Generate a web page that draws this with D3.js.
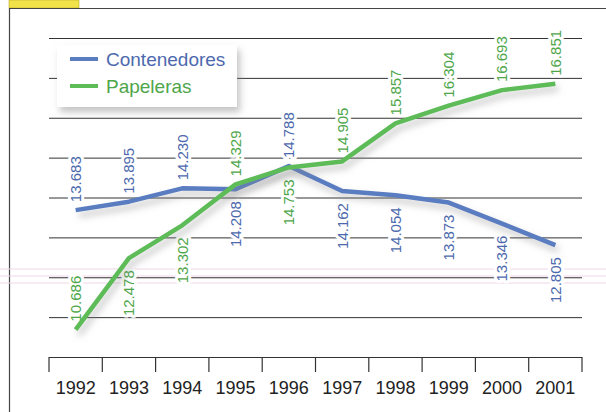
<!DOCTYPE html>
<html>
<head>
<meta charset="utf-8">
<script src="https://cdn.jsdelivr.net/npm/d3@7"></script>
<style>
  body { margin: 0; background: #fff; }
  svg { display: block; font-family: "Liberation Sans", Arial, sans-serif; }
</style>
</head>
<body>
<svg width="606" height="412"></svg>
<script>
const years = ['1992', '1993', '1994', '1995', '1996', '1997', '1998', '1999', '2000', '2001'];
const contenedores = [13.683, 13.895, 14.230, 14.208, 14.788, 14.162, 14.054, 13.873, 13.346, 12.805];
const papeleras = [10.686, 12.478, 13.302, 14.329, 14.753, 14.905, 15.857, 16.304, 16.693, 16.851];
const gridValues = [11, 12, 13, 14, 15, 16, 17, 18];

const svg = d3.select('svg');
const width = +svg.attr('width');
const height = +svg.attr('height');

// plot area
const plotLeft = 49, plotRight = 582, plotTop = 38, plotBottom = 357;

const x = d3.scaleBand().domain(years).range([plotLeft, plotRight]);
const y = d3.scaleLinear().domain([10, 18]).range([plotBottom, plotTop]);

// shadow filter for lines and legend
const defs = svg.append('defs');
defs.append('filter').attr('id', 'shadow')
  .attr('x', '-20%').attr('y', '-20%').attr('width', '140%').attr('height', '160%')
  .append('feDropShadow')
  .attr('dx', 3).attr('dy', 5).attr('stdDeviation', 3.5)
  .attr('flood-color', '#888').attr('flood-opacity', 0.5);

// page frame + yellow tab
svg.append('rect').attr('x', 9).attr('y', 0).attr('width', 70).attr('height', 8)
  .attr('fill', '#f1e24a').attr('stroke', '#b8a830').attr('stroke-width', 0.6);
svg.append('line').attr('x1', 9).attr('x2', width).attr('y1', 8.5).attr('y2', 8.5)
  .attr('stroke', '#444').attr('stroke-width', 1.2);
svg.append('line').attr('x1', 9.5).attr('x2', 9.5).attr('y1', 8).attr('y2', height)
  .attr('stroke', '#444').attr('stroke-width', 1.2);

// faint scan stripes
[269, 276, 283].forEach(v => {
  svg.append('line').attr('x1', 0).attr('x2', width).attr('y1', v).attr('y2', v)
    .attr('stroke', '#f0d6e6').attr('stroke-width', 1);
});

// gridlines
const grid = svg.append('g')
  .attr('transform', `translate(${plotLeft},0)`)
  .call(d3.axisLeft(y).tickValues(gridValues).tickSize(-(plotRight - plotLeft)).tickFormat(''));
grid.select('.domain').remove();
grid.selectAll('.tick line').attr('stroke', '#333').attr('stroke-width', 1);

// x axis: labels centred in bands, ticks on the band edges
const xAxis = svg.append('g')
  .attr('transform', `translate(0,${plotBottom})`)
  .call(d3.axisBottom(x).tickSize(0).tickPadding(24));
xAxis.select('.domain').attr('d', `M${plotLeft},0.5H${plotRight}`).attr('stroke', '#333');
xAxis.selectAll('.tick text').attr('font-size', 18).attr('fill', '#222')
  .attr('font-family', '"Liberation Sans", Arial, sans-serif');
const edges = years.map(d => x(d)).concat([x(years[years.length - 1]) + x.bandwidth()]);
xAxis.selectAll('.edge').data(edges).join('line')
  .attr('x1', d => d).attr('x2', d => d).attr('y1', 0).attr('y2', 15)
  .attr('stroke', '#333').attr('stroke-width', 1.2);

const series = [
  { name: 'Contenedores', values: contenedores, other: papeleras, line: '#5a7cc0', text: '#4d69ad' },
  { name: 'Papeleras', values: papeleras, other: contenedores, line: '#5dbb58', text: '#4ea64a' }
];

const cx = d => x(d) + x.bandwidth() / 2;
const labelLen = 46, gapAbove = 8, gapBelow = 12;

// value labels: on the side away from the other series, flipped if no room
series.forEach(s => {
  svg.append('g').selectAll('text').data(years).join('text')
    .each(function (d, i) {
      const v = s.values[i];
      const py = y(v);
      let above = v >= s.other[i];
      if (!above && py + gapBelow + labelLen > plotBottom) above = true;
      const ly = above ? py - gapAbove : py + gapBelow;
      d3.select(this)
        .attr('transform', `translate(${cx(d)},${ly}) rotate(-90)`)
        .attr('text-anchor', above ? 'start' : 'end')
        .attr('dy', '0.36em');
    })
    .attr('font-size', 15)
    .attr('fill', s.text)
    .attr('stroke', '#fff').attr('stroke-width', 6).attr('paint-order', 'stroke')
    .attr('stroke-linejoin', 'round')
    .text((d, i) => s.values[i].toFixed(3));
});

// lines
const line = d3.line().x((d, i) => cx(years[i])).y(d => y(d));
series.forEach(s => {
  svg.append('path').datum(s.values)
    .attr('d', line)
    .attr('fill', 'none')
    .attr('stroke', s.line)
    .attr('stroke-width', 4.5)
    .attr('stroke-linejoin', 'round')
    .attr('filter', 'url(#shadow)');
});

// legend
const legend = svg.append('g');
legend.append('rect').attr('x', 57).attr('y', 45).attr('width', 180).attr('height', 62)
  .attr('fill', '#fff').attr('filter', 'url(#shadow)');
series.forEach((s, i) => {
  const ly = 59 + i * 27;
  legend.append('line').attr('x1', 70).attr('x2', 98).attr('y1', ly).attr('y2', ly)
    .attr('stroke', s.line).attr('stroke-width', 4);
  legend.append('text').attr('x', 106).attr('y', ly + 7)
    .attr('font-size', 19).attr('fill', s.text).text(s.name);
});
</script>
</body>
</html>
